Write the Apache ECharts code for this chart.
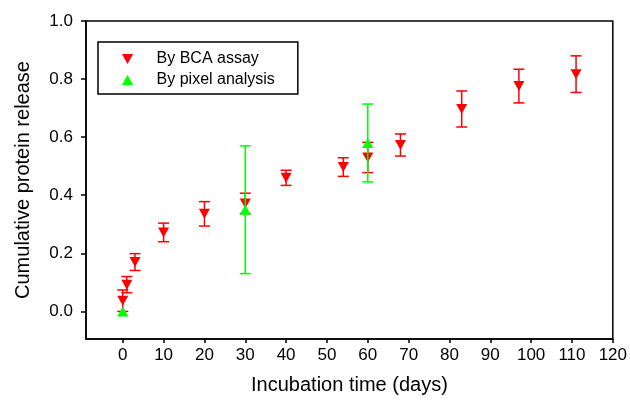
<!DOCTYPE html>
<html>
<head>
<meta charset="utf-8">
<script src="https://cdn.jsdelivr.net/npm/echarts@6/dist/echarts.min.js"></script>
<style>html,body{margin:0;padding:0;background:#fff;}#c{width:630px;height:400px;}</style>
</head>
<body>
<div id="c"></div>
<script>
const days = [0, 1, 3, 10, 20, 30, 40, 54, 60, 68, 83, 97, 111];
const bca = [0.037, 0.092, 0.170, 0.272, 0.336, 0.372, 0.460, 0.497, 0.530, 0.573, 0.697, 0.776, 0.817];
const bcaErr = [0.037, 0.028, 0.029, 0.032, 0.042, 0.035, 0.026, 0.032, 0.052, 0.038, 0.062, 0.058, 0.063];
const pixelDays = [0, 30, 60];
const pixel = [0.0, 0.35, 0.58];
const pixelErr = [0.0, 0.22, 0.134];
const xTicks = [0, 10, 20, 30, 40, 50, 60, 70, 80, 90, 100, 110, 120];
const yTicks = [0, 0.2, 0.4, 0.6, 0.8, 1.0];

const FONT = 'Liberation Sans, Arial, Helvetica, sans-serif';
const RED = '#ff0000', GREEN = '#00ff00';

function errData(xs, ys, es) {
  return xs.map((x, i) => [x, ys[i] - es[i], ys[i] + es[i]]);
}
function errRender(color) {
  return function (params, api) {
    const x = api.value(0);
    const lo = api.coord([x, api.value(1)]);
    const hi = api.coord([x, api.value(2)]);
    const hw = 5.5;
    const st = { stroke: color, lineWidth: 1.5 };
    if (Math.abs(hi[1] - lo[1]) < 0.5) return { type: 'group', children: [] };
    return {
      type: 'group',
      children: [
        { type: 'line', shape: { x1: hi[0], y1: hi[1], x2: lo[0], y2: lo[1] }, style: st },
        { type: 'line', shape: { x1: hi[0] - hw, y1: hi[1], x2: hi[0] + hw, y2: hi[1] }, style: st },
        { type: 'line', shape: { x1: lo[0] - hw, y1: lo[1], x2: lo[0] + hw, y2: lo[1] }, style: st }
      ]
    };
  };
}

const chart = echarts.init(document.getElementById('c'), null, { renderer: 'canvas' });
chart.setOption({
  animation: false,
  backgroundColor: '#fff',
  textStyle: { fontFamily: FONT },
  grid: { left: 86, right: 17, top: 21, bottom: 60, show: true, borderColor: '#000', borderWidth: 1.5, backgroundColor: 'transparent' },
  legend: {
    orient: 'vertical',
    left: 98, top: 42,
    padding: [9, 23, 6, 24],
    itemGap: 5,
    itemWidth: 12, itemHeight: 10,
    borderColor: '#000', borderWidth: 1.5,
    textStyle: { fontSize: 16, color: '#000', fontFamily: FONT, padding: [0, 0, 0, 18] },
    data: [
      { name: 'By BCA assay', icon: 'path://M0,0L10,0L5,9Z', itemStyle: { color: RED } },
      { name: 'By pixel analysis', icon: 'path://M5,0L10,9L0,9Z', itemStyle: { color: GREEN } }
    ]
  },
  xAxis: {
    type: 'value', min: -9, max: 120,
    name: 'Incubation time (days)', nameLocation: 'middle', nameGap: 36,
    nameTextStyle: { fontSize: 20, color: '#000', fontFamily: FONT },
    axisLine: { onZero: false, lineStyle: { color: '#000', width: 1.5 } },
    axisTick: { customValues: xTicks, length: 4, lineStyle: { color: '#000', width: 1.5 } },
    axisLabel: { customValues: xTicks, fontSize: 17, color: '#000', margin: 8, fontFamily: FONT },
    splitLine: { show: false }
  },
  yAxis: {
    type: 'value', min: -0.095, max: 1.0,
    name: 'Cumulative protein release', nameLocation: 'middle', nameGap: 53,
    nameTextStyle: { fontSize: 20, color: '#000', fontFamily: FONT },
    axisLine: { onZero: false, lineStyle: { color: '#000', width: 1.5 } },
    axisTick: { customValues: yTicks, length: 5, lineStyle: { color: '#000', width: 1.5 } },
    axisLabel: { customValues: yTicks, fontSize: 17, color: '#000', margin: 13, fontFamily: FONT, formatter: v => v.toFixed(1) },
    splitLine: { show: false }
  },
  series: [
    { type: 'custom', name: 'bcaErr', renderItem: errRender(RED), data: errData(days, bca, bcaErr), encode: { x: 0, y: [1, 2] }, z: 2 },
    { type: 'scatter', name: 'By BCA assay', symbol: 'triangle', symbolRotate: 180, symbolSize: [11, 10], itemStyle: { color: RED, opacity: 1 }, data: days.map((d, i) => [d, bca[i]]), z: 3 },
    { type: 'custom', name: 'pixelErr', renderItem: errRender(GREEN), data: errData(pixelDays, pixel, pixelErr), encode: { x: 0, y: [1, 2] }, z: 4 },
    { type: 'scatter', name: 'By pixel analysis', symbol: 'triangle', symbolSize: [11, 10], itemStyle: { color: GREEN, opacity: 1 }, data: pixelDays.map((d, i) => [d, pixel[i]]), z: 5 }
  ]
});
</script>
</body>
</html>
